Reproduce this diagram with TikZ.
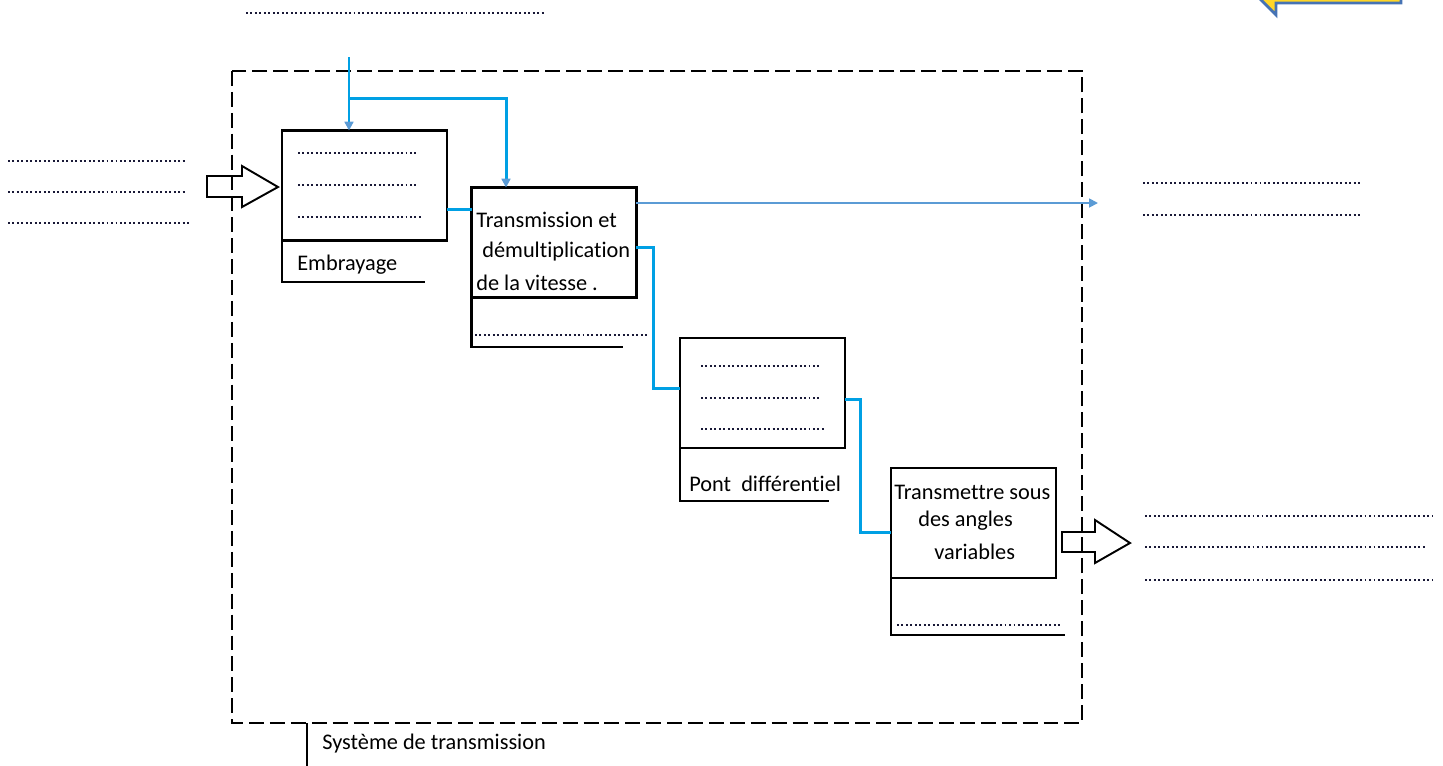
\documentclass[tikz,border=0pt]{standalone}
\usepackage{fontspec}
\setmainfont{Carlito}[Ligatures=CommonOff]
\usetikzlibrary{arrows.meta}
\definecolor{fluxbleu}{RGB}{0,160,228}
\definecolor{sigbleu}{RGB}{91,155,213}
\definecolor{pointcol}{RGB}{25,25,55}
\definecolor{jaune}{RGB}{255,214,40}
\definecolor{bordjaune}{RGB}{70,115,180}

\begin{document}
\begin{tikzpicture}[x=0.02cm,y=-0.02cm,
	bloc/.style={draw,line width=1.4pt,minimum width=3.3cm,minimum height=2.2cm,inner sep=0pt,outer sep=0pt},
	bas/.style={line width=1.4pt,line join=miter},
	txt/.style={anchor=west,inner sep=0pt,font=\fontsize{12.7}{15}\selectfont},
	pointille/.style={pointcol,line width=1.1pt,dash pattern=on 1.1pt off 1.45pt},
	flux/.style={fluxbleu,line width=1.7pt},
	sig/.style={sigbleu,line width=1pt},
	cadre/.style={line width=1.1pt,dash pattern=on 8.5pt off 3.4pt},
	fleche/.style={line width=1.1pt,line join=miter},
	pointe/.style={-{Triangle[length=5pt,width=5pt,color=sigbleu]}}]
	\useasboundingbox (0,0) rectangle (1443,765);
	\clip (0,0) rectangle (1443,765);
	% cadre du systeme
	\draw[cadre] (232,71) rectangle (1082,723);
	\draw[line width=1.1pt] (307,723) -- (307,770);
	\node[txt] (lsys) at (322,744) {Système de transmission};
	% fleche jaune (coupee en haut)
	\draw[line width=1.6pt,draw=bordjaune,fill=jaune,line join=miter] (1401,-40) -- (1401,3) -- (1276,3) -- (1276,15) -- (1246,-15) -- (1276,-45) -- cycle;
	% pointilles
	\draw[pointille] (246,13) -- (545,13);
	\foreach \y/\l in {161/185,192/185,223/190} \draw[pointille] (8,\y) -- (\l,\y);
	\foreach \y in {183,215} \draw[pointille] (1143,\y) -- (1361,\y);
	\foreach \y/\l in {516/1433,547/1427,580/1433} \draw[pointille] (1145,\y) -- (\l,\y);
	% blocs
	\node[bloc] (embr) at (364.5,185.5) {};
	\node[bloc] (trans) at (554,242.5) {};
	\node[bloc] (pont) at (762.5,393) {};
	\node[bloc] (cardan) at (973.5,523) {};
	% parties basses
	\draw[bas] (embr.south west) |- (425,282);
	\draw[bas] (trans.south west) |- (623,347);
	\draw[bas] (pont.south west) |- (829,501);
	\draw[bas] (cardan.south west) |- (1065,635);
	% textes
	\node[txt] (lembr) at (297,265) {Embrayage};
	\node[txt] (ltrans1) at (476,220) {Transmission et};
	\node[txt] (ltrans2) at (482,252) {démultiplication};
	\node[txt] (ltrans3) at (476,283) {de la vitesse .};
	\node[txt] (lpont) at (689,484) {Pont\ \ différentiel};
	\node[txt] (lcard1) at (894,492) {Transmettre sous};
	\node[txt] (lcard2) at (918,521) {des angles};
	\node[txt] (lcard3) at (934,552) {variables};
	% pointilles des blocs
	\foreach \y/\l in {153/417,185/417,217/423} \draw[pointille] (298,\y) -- (\l,\y);
	\foreach \y/\l in {366/820,398/820,429/825} \draw[pointille] (701,\y) -- (\l,\y);
	\draw[pointille] (475,335) -- (647,335);
	\draw[pointille] (897,625) -- (1062,625);
	% liaisons bleues
	\coordinate (entree) at (349,57);
	\coordinate (branche) at (349,98);
	\coordinate (sortie) at (1098,203);
	\draw[flux,pointe] (entree) -- (entree |- embr.north);
	\draw[flux,pointe] (branche) -| (trans.north -| 506,98);
	\draw[flux] (embr.east |- 0,209) -- (trans.west |- 0,209);
	\draw[sig,pointe] (trans.east |- 0,203) -- (sortie);
	\draw[flux] (trans.east |- 0,247) -- (653,247) |- (pont.west |- 0,388);
	\draw[flux] (pont.east |- 0,399) -- (860,399) |- (cardan.west |- 0,532);
	% fleches creuses
	\draw[fleche] (207,176) -- (242,176) -- (242,166) -- (278,187) -- (242,207) -- (242,197) -- (207,197) -- cycle;
	\draw[fleche] (1062,532) -- (1095,532) -- (1095,520) -- (1130,543) -- (1095,563) -- (1095,552) -- (1062,552) -- cycle;
\end{tikzpicture}
\end{document}
